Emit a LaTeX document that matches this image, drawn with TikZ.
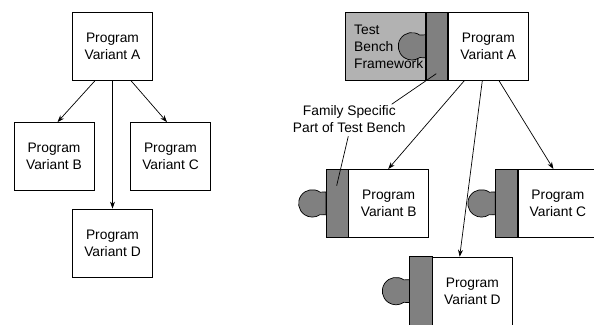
\documentclass[tikz,border=0pt]{standalone}
\usepackage{fontspec}
\setmainfont{Liberation Sans}
\usetikzlibrary{arrows.meta,calc}
\definecolor{fwgray}{gray}{0.70}
\definecolor{bargray}{gray}{0.50}
\begin{document}
\begin{tikzpicture}[x=1pt,y=-1pt,
  txt/.style={font=\fontsize{13.8}{17}\selectfont},
  prog/.style={draw=black,line width=0.8pt,fill=white,minimum width=80pt,minimum height=68pt,inner sep=0pt,align=center,txt},
  fwbox/.style={draw=black,line width=0.8pt,fill=fwgray,minimum width=80pt,minimum height=68pt,inner sep=0pt},
  barbox/.style={draw=black,line width=0.8pt,fill=bargray,minimum width=21.5pt,minimum height=68pt,inner sep=0pt},
  blob/.style={draw=black,line width=0.7pt,fill=bargray},
  conn/.style={draw=black,line width=0.7pt,-{Stealth[length=7pt,width=5pt]}},
  lead/.style={draw=black,line width=0.7pt}
]
\useasboundingbox (0,0) rectangle (594,324);

% ---------- left diagram ----------
\node[prog] (A) at (112.5,46.3) {Program\\Variant A};
\node[prog] (B) at (54,156.5) {Program\\Variant B};
\node[prog] (C) at (170.5,156.5) {Program\\Variant C};
\node[prog] (D) at (112.5,243) {Program\\Variant D};
\draw[conn] ([xshift=-17.5pt]A.south) -- ([xshift=3.5pt]B.north);
\draw[conn] ([xshift=18.5pt]A.south) -- ([xshift=-3.5pt]C.north);
\draw[conn] (A.south) -- (D.north);

% ---------- right diagram ----------
% top: framework + bar + program A
\node[prog] (RA) at (488.3,46.3) {Program\\Variant A};
\node[barbox,anchor=north east] (RAbar) at (RA.north west) {};
\node[fwbox,anchor=north east] (FW) at (RAbar.north west) {};
\path[blob] ($(RAbar.west)+(0,-11.5)$) -- ($(RAbar.west)+(-5.84,-11.22)$)
  arc[start angle=-55,end angle=-305,radius=13.7] -- ($(RAbar.west)+(0,11.5)$) -- cycle;
\draw[line width=0.8pt] (RAbar.north west) -- (RAbar.south west);
\node[txt,align=left,anchor=west,inner sep=0pt] (FWtext) at (354,47.3) {Test\\Bench\\Framework};

% program B
\node[prog,anchor=north west] (RB) at (348.3,169) {Program\\Variant B};
\node[barbox,anchor=north east] (RBbar) at (RB.north west) {};
% program C
\node[prog,anchor=north west] (RC) at (517.5,169) {Program\\Variant C};
\node[barbox,anchor=north east] (RCbar) at (RC.north west) {};
% program D
\node[prog,anchor=north west] (RD) at (432,256.7) {Program\\Variant D};
\node[barbox,anchor=north east] (RDbar) at (RD.north west) {};

\foreach \b in {RBbar,RCbar,RDbar}{
  \path[blob] ($(\b.west)+(0,-11.5)$) -- ($(\b.west)+(-5.84,-11.22)$)
    arc[start angle=-55,end angle=-305,radius=13.7] -- ($(\b.west)+(0,11.5)$) -- cycle;
  \draw[line width=0.8pt,fill=bargray] (\b.north west) rectangle (\b.south east);
}

% connectors
\draw[conn] ([xshift=-24pt]RA.south) -- ([xshift=-0.5pt]RB.north);
\draw[conn] ([xshift=-6pt]RA.south) -- ([xshift=-12.75pt]RD.north);
\draw[conn] ([xshift=10.7pt]RA.south) -- ([xshift=-4.5pt]RC.north);

% label
\node[txt,align=center,inner sep=0pt] (lbl) at (349.3,119.5) {Family Specific\\Part of Test Bench};
\coordinate (pA) at ($(RAbar.south)+(-0.5,-7)$);
\coordinate (pB) at ($(RBbar.north)+(-0.5,16.7)$);
\draw[lead] ($(lbl.north)+(42.4,-1.5)$) -- (pA);
\draw[lead] ($(lbl.south)+(-1,3)$) -- (pB);
\end{tikzpicture}
\end{document}
